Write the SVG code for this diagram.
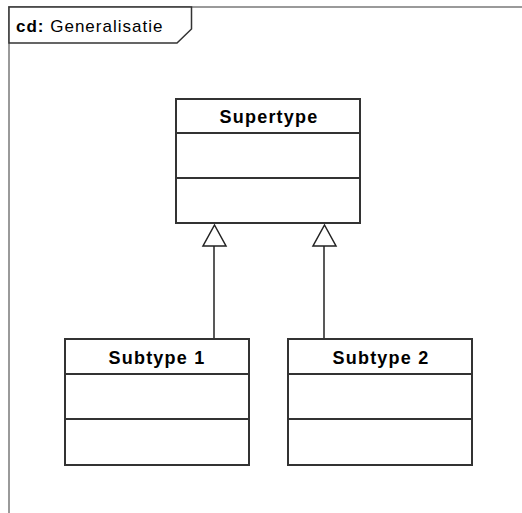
<svg xmlns="http://www.w3.org/2000/svg" width="522" height="513" viewBox="0 0 522 513">
  <style>
    .frame { fill: none; stroke: #9a9a9a; stroke-width: 2; }
    .tab { fill: #ffffff; stroke: #333333; stroke-width: 1.5; }
    .cls { fill: #ffffff; stroke: #333333; stroke-width: 2; }
    .div { stroke: #333333; stroke-width: 2; }
    .name { font-family: "Liberation Sans", Arial, sans-serif; font-size: 18px; font-weight: bold; letter-spacing: 1.2px; fill: #000000; text-anchor: middle; }
    .title { font-family: "Liberation Sans", Arial, sans-serif; font-size: 17px; letter-spacing: 1px; fill: #000000; }
    .gen { fill: none; stroke: #222222; stroke-width: 1.5; }
    .head { fill: #ffffff; stroke: #222222; stroke-width: 1.5; }
  </style>
  <rect width="522" height="513" fill="#ffffff"/>

  <!-- diagram frame with its name tab -->
  <g id="frame">
    <path class="frame" d="M9,513 L9,7 L522,7"/>
    <path class="tab" d="M9,7 L191.5,7 L191.5,29 L177,43 L9,43 Z"/>
    <text class="title" x="16" y="32"><tspan font-weight="bold">cd:</tspan> Generalisatie</text>
  </g>

  <!-- generalisation connectors (hollow triangle at the supertype) -->
  <g id="connectors">
    <line class="gen" x1="214" y1="339" x2="214" y2="246"/>
    <path class="head" d="M214.5,225 L226,246 L203,246 Z"/>
    <line class="gen" x1="324" y1="339" x2="324" y2="246"/>
    <path class="head" d="M324.5,225 L336,246 L313,246 Z"/>
  </g>

  <g id="supertype">
    <rect class="cls" x="176" y="99" width="184" height="124"/>
    <line class="div" x1="176" y1="133" x2="360" y2="133"/>
    <line class="div" x1="176" y1="178" x2="360" y2="178"/>
    <text class="name" x="269" y="123">Supertype</text>
  </g>

  <g id="subtype1">
    <rect class="cls" x="65" y="339" width="184" height="126"/>
    <line class="div" x1="65" y1="374" x2="249" y2="374"/>
    <line class="div" x1="65" y1="419" x2="249" y2="419"/>
    <text class="name" x="157" y="364">Subtype 1</text>
  </g>

  <g id="subtype2">
    <rect class="cls" x="288" y="339" width="184" height="126"/>
    <line class="div" x1="288" y1="374" x2="472" y2="374"/>
    <line class="div" x1="288" y1="419" x2="472" y2="419"/>
    <text class="name" x="381" y="364">Subtype 2</text>
  </g>
</svg>
